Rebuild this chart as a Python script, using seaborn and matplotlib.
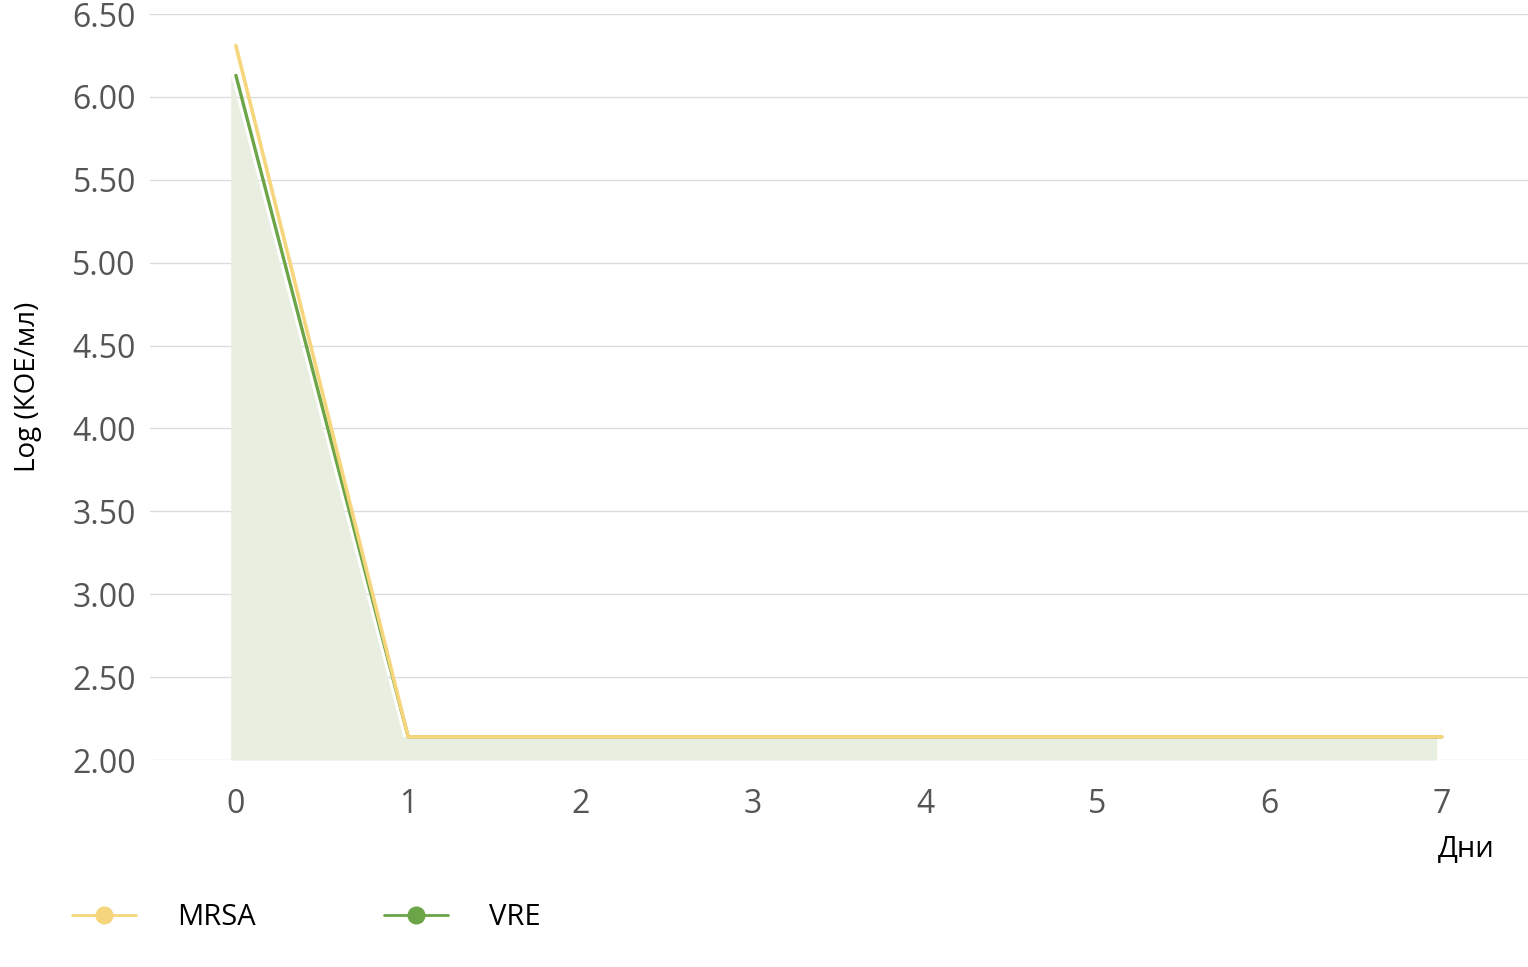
import numpy as np
import pandas as pd
import matplotlib.pyplot as plt
import seaborn as sns

days = [0, 1, 2, 3, 4, 5, 6, 7]
mrsa = [6.31, 2.14, 2.14, 2.14, 2.14, 2.14, 2.14, 2.14]
vre = [6.13, 2.14, 2.14, 2.14, 2.14, 2.14, 2.14, 2.14]
yticks = [2.0, 2.5, 3.0, 3.5, 4.0, 4.5, 5.0, 5.5, 6.0, 6.5]

sns.set_theme(style="white")
plt.rcParams['font.family'] = ['Open Sans', 'DejaVu Sans']

yellow = "#F6D67C"
green = "#6BA547"

df = pd.DataFrame({
    "day": days * 2,
    "value": mrsa + vre,
    "series": ["MRSA"] * len(days) + ["VRE"] * len(days),
})

fig = plt.figure(figsize=(15.28, 9.67), dpi=100)
ax = fig.add_axes([0.098, 0.214, 0.902, 0.7715])

ax.fill_between(np.array(days) - 0.03, 2.0, vre, color="#E8EFE0", lw=0, zorder=1)
sns.lineplot(data=df[df.series == "VRE"], x="day", y="value", color=green,
             lw=2.4, ax=ax, zorder=3, solid_joinstyle="round")
sns.lineplot(data=df[df.series == "MRSA"], x="day", y="value", color=yellow,
             lw=2.6, ax=ax, zorder=4, solid_joinstyle="round")

ax.set_xlim(-0.5, 7.5)
ax.set_ylim(2.0, 6.5)
ax.set_yticks(yticks)
ax.set_yticklabels([f"{v:.2f}" for v in yticks])
ax.set_xticks(days)
ax.grid(axis="y", color="#dcdcdc", lw=1)
ax.set_axisbelow(True)
for s in ax.spines.values():
    s.set_visible(False)
ax.tick_params(axis="y", length=0, pad=10, labelsize=23, labelcolor="#555555")
ax.tick_params(axis="x", length=0, pad=20, labelsize=23, labelcolor="#555555")
ax.set_xlabel("")
ax.set_ylabel("Log (КОЕ/мл)", fontsize=20, color="black", labelpad=22)
fig.text(0.978, 0.122, "Дни", fontsize=21, color="black", ha="right", va="center")

h1 = plt.Line2D([], [], color=yellow, lw=2, marker="o", markersize=12)
h2 = plt.Line2D([], [], color=green, lw=2, marker="o", markersize=12)
leg = fig.legend([h1, h2], ["MRSA", "VRE"], loc="center left", bbox_to_anchor=(0.03, 0.051),
                 ncol=2, frameon=False, fontsize=21, handlelength=2.2,
                 handletextpad=1.4, columnspacing=4.4)
for t in leg.get_texts():
    t.set_color("black")

fig.savefig("out.png", dpi=100)
